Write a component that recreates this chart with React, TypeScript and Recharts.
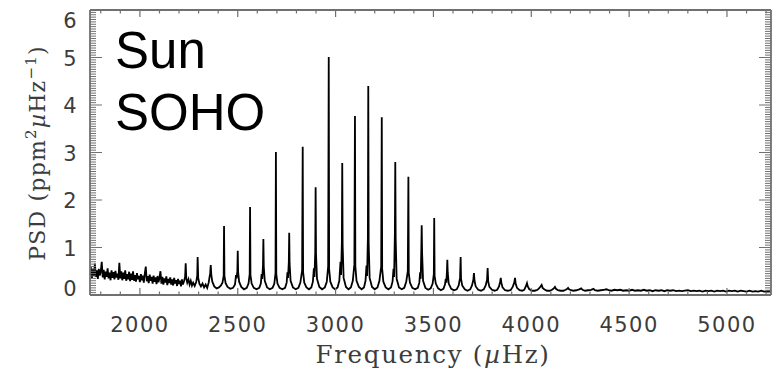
import React from "react";
import { LineChart, Line, XAxis, YAxis } from "recharts";

// SOHO solar power spectrum: [frequency µHz, PSD ppm²/µHz]
const lowBand: [number, number][] = [
  [1745, 0.42], [1750, 0.58], [1755, 0.36], [1760, 0.55], [1765, 0.40], [1770, 0.66],
  [1775, 0.38], [1780, 0.52], [1785, 0.34], [1790, 0.55], [1795, 0.41], [1800, 0.50],
  [1805, 0.70], [1810, 0.37], [1815, 0.53], [1820, 0.33], [1825, 0.49], [1830, 0.38],
  [1835, 0.56], [1840, 0.35], [1845, 0.47], [1850, 0.31], [1855, 0.52], [1860, 0.36],
  [1865, 0.48], [1870, 0.33], [1875, 0.51], [1880, 0.37], [1885, 0.45], [1890, 0.32],
  [1895, 0.68], [1900, 0.35], [1905, 0.50], [1910, 0.31], [1915, 0.47], [1920, 0.34],
  [1925, 0.52], [1930, 0.30], [1935, 0.44], [1940, 0.33], [1945, 0.49], [1950, 0.29],
  [1955, 0.45], [1960, 0.32], [1965, 0.50], [1970, 0.30], [1975, 0.42], [1980, 0.28],
  [1985, 0.46], [1990, 0.33], [1995, 0.40], [2000, 0.27], [2005, 0.44], [2010, 0.31],
  [2015, 0.41], [2020, 0.26], [2025, 0.45], [2030, 0.60], [2035, 0.29], [2040, 0.40],
  [2045, 0.25], [2050, 0.43], [2055, 0.30], [2060, 0.38], [2065, 0.24], [2070, 0.41],
  [2075, 0.28], [2080, 0.37], [2085, 0.23], [2090, 0.40], [2095, 0.27], [2100, 0.36],
  [2105, 0.50], [2110, 0.24], [2115, 0.38], [2120, 0.22], [2125, 0.35], [2130, 0.26],
  [2135, 0.39], [2140, 0.21], [2145, 0.34], [2150, 0.25], [2155, 0.37], [2160, 0.22],
  [2165, 0.33], [2170, 0.20], [2175, 0.36], [2180, 0.24], [2185, 0.31], [2190, 0.19],
  [2195, 0.34], [2200, 0.23], [2205, 0.30], [2210, 0.18], [2215, 0.33], [2220, 0.22],
];

const modeBand: [number, number][] = [
  [2226, 0.30], [2231, 0.38], [2234, 0.67], [2237, 0.35], [2242, 0.26], [2248, 0.33],
  [2254, 0.22], [2260, 0.30], [2266, 0.20], [2272, 0.26], [2280, 0.19], [2288, 0.28],
  [2293, 0.40], [2295, 0.80], [2298, 0.36], [2304, 0.24], [2312, 0.18], [2320, 0.24],
  [2328, 0.16], [2336, 0.22], [2344, 0.15], [2352, 0.27], [2356, 0.38], [2359, 0.45],
  [2362, 0.63], [2365, 0.42], [2370, 0.28], [2380, 0.18], [2392, 0.14], [2404, 0.16],
  [2414, 0.20], [2422, 0.26], [2428, 0.40], [2430, 1.45], [2432, 0.40], [2438, 0.25],
  [2448, 0.17], [2462, 0.13], [2476, 0.15], [2486, 0.22], [2491, 0.42], [2494, 0.35],
  [2498, 0.50], [2500, 0.93], [2502, 0.48], [2507, 0.28], [2518, 0.17], [2532, 0.12],
  [2546, 0.15], [2555, 0.24], [2561, 0.44], [2563, 1.85], [2565, 0.42], [2571, 0.24],
  [2582, 0.15], [2596, 0.12], [2610, 0.15], [2618, 0.24], [2622, 0.44], [2625, 0.34],
  [2629, 0.62], [2631, 1.18], [2633, 0.60], [2638, 0.30], [2650, 0.16], [2664, 0.12],
  [2678, 0.15], [2687, 0.24], [2693, 0.46], [2695, 3.01], [2697, 0.44], [2703, 0.24],
  [2714, 0.15], [2728, 0.12], [2742, 0.15], [2750, 0.26], [2754, 0.48], [2757, 0.36],
  [2761, 0.70], [2763, 1.31], [2765, 0.66], [2770, 0.30], [2782, 0.16], [2796, 0.12],
  [2810, 0.15], [2820, 0.26], [2829, 0.52], [2832, 3.12], [2834, 0.48], [2840, 0.26],
  [2851, 0.16], [2864, 0.12], [2876, 0.16], [2884, 0.28], [2889, 0.56], [2892, 0.38],
  [2896, 0.90], [2898, 2.27], [2900, 0.86], [2905, 0.34], [2917, 0.17], [2931, 0.12],
  [2945, 0.16], [2955, 0.28], [2962, 0.60], [2965, 5.01], [2967, 0.55], [2973, 0.28],
  [2985, 0.16], [2998, 0.12], [3010, 0.16], [3019, 0.30], [3025, 0.70], [3028, 0.42],
  [3032, 1.10], [3034, 2.78], [3036, 1.05], [3041, 0.36], [3053, 0.17], [3066, 0.12],
  [3078, 0.16], [3088, 0.30], [3096, 0.65], [3099, 3.77], [3101, 0.60], [3107, 0.30],
  [3119, 0.17], [3133, 0.12], [3145, 0.16], [3153, 0.30], [3158, 0.62], [3161, 0.40],
  [3165, 1.20], [3167, 4.40], [3169, 1.10], [3174, 0.36], [3186, 0.17], [3200, 0.12],
  [3214, 0.16], [3224, 0.30], [3233, 0.60], [3236, 3.74], [3238, 0.55], [3244, 0.28],
  [3256, 0.16], [3270, 0.12], [3283, 0.16], [3291, 0.28], [3296, 0.55], [3299, 0.38],
  [3303, 1.30], [3305, 2.80], [3307, 1.20], [3312, 0.34], [3324, 0.16], [3338, 0.12],
  [3351, 0.15], [3361, 0.28], [3369, 0.50], [3372, 2.49], [3374, 0.46], [3380, 0.26],
  [3392, 0.15], [3406, 0.12], [3420, 0.15], [3428, 0.26], [3432, 0.48], [3435, 0.34],
  [3438, 0.95], [3440, 1.47], [3442, 0.90], [3447, 0.30], [3459, 0.15], [3473, 0.11],
  [3486, 0.14], [3496, 0.24], [3502, 0.44], [3504, 1.62], [3506, 0.40], [3512, 0.24],
  [3524, 0.14], [3538, 0.10], [3551, 0.13], [3559, 0.22], [3563, 0.34], [3566, 0.26],
  [3569, 0.50], [3571, 0.74], [3573, 0.48], [3578, 0.24], [3591, 0.13], [3605, 0.10],
  [3619, 0.12], [3629, 0.20], [3636, 0.36], [3639, 0.80], [3641, 0.34], [3647, 0.20],
  [3660, 0.12], [3674, 0.09], [3688, 0.12], [3697, 0.20], [3704, 0.32], [3707, 0.46],
  [3710, 0.30], [3716, 0.18], [3729, 0.11], [3743, 0.09], [3757, 0.12], [3767, 0.20],
  [3774, 0.32], [3777, 0.57], [3780, 0.28], [3786, 0.17], [3799, 0.11], [3813, 0.09],
  [3826, 0.11], [3835, 0.18], [3841, 0.28], [3844, 0.36], [3847, 0.26], [3853, 0.16],
  [3866, 0.10], [3880, 0.09], [3894, 0.10], [3905, 0.17], [3913, 0.26], [3917, 0.36],
  [3920, 0.24], [3927, 0.15], [3940, 0.10], [3953, 0.09], [3964, 0.11], [3972, 0.18],
  [3978, 0.25], [3982, 0.18], [3990, 0.12], [4004, 0.09], [4018, 0.09], [4032, 0.11],
  [4044, 0.16], [4053, 0.21], [4058, 0.15], [4066, 0.12], [4080, 0.09], [4094, 0.09],
  [4106, 0.11], [4115, 0.14], [4121, 0.17], [4126, 0.13], [4136, 0.10], [4150, 0.09],
  [4164, 0.09], [4176, 0.11], [4184, 0.13], [4188, 0.15], [4193, 0.12], [4203, 0.10],
];

const tailBand: [number, number][] = [
  [4215, 0.09], [4230, 0.10], [4245, 0.12], [4255, 0.14], [4262, 0.11], [4275, 0.09],
  [4290, 0.10], [4305, 0.11], [4318, 0.13], [4325, 0.10], [4340, 0.09], [4355, 0.10],
  [4370, 0.11], [4385, 0.12], [4395, 0.10], [4410, 0.09], [4425, 0.11], [4440, 0.10],
  [4455, 0.11], [4470, 0.09], [4485, 0.10], [4500, 0.09], [4515, 0.11], [4530, 0.09],
  [4545, 0.10], [4560, 0.09], [4575, 0.11], [4590, 0.09], [4605, 0.10], [4620, 0.08],
  [4635, 0.10], [4650, 0.09], [4665, 0.10], [4680, 0.08], [4695, 0.10], [4710, 0.09],
  [4725, 0.10], [4740, 0.08], [4755, 0.09], [4770, 0.08], [4785, 0.09], [4800, 0.10],
  [4815, 0.08], [4830, 0.09], [4845, 0.08], [4860, 0.09], [4875, 0.07], [4890, 0.09],
  [4905, 0.08], [4920, 0.09], [4935, 0.07], [4950, 0.09], [4965, 0.08], [4980, 0.09],
  [4995, 0.07], [5010, 0.09], [5025, 0.08], [5040, 0.09], [5055, 0.07], [5070, 0.09],
  [5085, 0.08], [5100, 0.07], [5115, 0.09], [5130, 0.07], [5145, 0.08], [5160, 0.07],
  [5175, 0.09], [5190, 0.07], [5205, 0.08], [5225, 0.09],
];

const xMajor = [2000, 2500, 3000, 3500, 4000, 4500, 5000];
const yMajor = [0, 1, 2, 3, 4, 5, 6];

const spectrum = [...lowBand, ...modeBand, ...tailBand].map(([f, p]) => ({ f, p }));

const xTicks: number[] = [];
for (let v = 1800; v <= 5200; v += 100) xTicks.push(v);
const yTicks: number[] = [];
for (let i = 0; i <= 120; i++) yTicks.push(i / 20);

const AXIS = "#707070";
const TEXT = "#3c3c3c";
const tickFont = { fontFamily: "DejaVu Sans", fontSize: 21, letterSpacing: 1.5 };

const isMajorY = (v: number) => Math.abs(v - Math.round(v)) < 1e-6;

const BottomTick = ({ x, y, payload }: any) => {
  const v = payload.value;
  const major = xMajor.includes(v);
  return (
    <g>
      <line x1={x} x2={x} y1={y} y2={y - (major ? 7 : 3.5)} stroke={AXIS} strokeWidth={1.2} />
      {major && (
        <text x={x} y={y + 37} textAnchor="middle" fill={TEXT} {...tickFont}>
          {v}
        </text>
      )}
    </g>
  );
};

const TopTick = ({ x, y, payload }: any) => {
  const major = xMajor.includes(payload.value);
  return <line x1={x} x2={x} y1={y} y2={y + (major ? 7 : 3.5)} stroke={AXIS} strokeWidth={1.2} />;
};

const LeftTick = ({ x, y, payload }: any) => {
  const v = payload.value;
  const major = isMajorY(v);
  const shift = v === 0 ? -7 : v === 6 ? 10 : 0;
  return (
    <g>
      <line x1={x} x2={x + (major ? 12 : 6)} y1={y} y2={y} stroke={AXIS} strokeWidth={1} />
      {major && yMajor.includes(Math.round(v)) && (
        <text x={x - 12} y={y + shift + 8} textAnchor="end" fill={TEXT} {...tickFont}>
          {Math.round(v)}
        </text>
      )}
    </g>
  );
};

const RightTick = ({ x, y, payload }: any) => {
  const major = isMajorY(payload.value);
  return <line x1={x} x2={x - (major ? 12 : 6)} y1={y} y2={y} stroke={AXIS} strokeWidth={1} />;
};

export default function App() {
  return (
    <div style={{ position: "absolute", left: 0, top: 0, width: 783, height: 376, background: "#fff" }}>
      <LineChart width={783} height={376} data={spectrum} margin={{ top: 9, right: 11, bottom: 0, left: 0 }}>
        <XAxis
          xAxisId="b"
          dataKey="f"
          type="number"
          domain={[1745, 5225]}
          allowDataOverflow
          ticks={xTicks}
          interval={0}
          height={81}
          tickSize={0}
          tickMargin={0}
          tickLine={false}
          axisLine={{ stroke: AXIS, strokeWidth: 1.8 }}
          tick={<BottomTick />}
        />
        <XAxis
          xAxisId="t"
          orientation="top"
          dataKey="f"
          type="number"
          domain={[1745, 5225]}
          allowDataOverflow
          ticks={xTicks}
          interval={0}
          height={1}
          tickSize={0}
          tickMargin={0}
          tickLine={false}
          axisLine={{ stroke: AXIS, strokeWidth: 1.8 }}
          tick={<TopTick />}
        />
        <YAxis
          yAxisId="l"
          type="number"
          domain={[0, 6]}
          allowDataOverflow
          ticks={yTicks}
          interval={0}
          width={90}
          tickSize={0}
          tickMargin={0}
          tickLine={false}
          axisLine={{ stroke: AXIS, strokeWidth: 1.8 }}
          tick={<LeftTick />}
        />
        <YAxis
          yAxisId="r"
          orientation="right"
          type="number"
          domain={[0, 6]}
          allowDataOverflow
          ticks={yTicks}
          interval={0}
          width={1}
          tickSize={0}
          tickMargin={0}
          tickLine={false}
          axisLine={{ stroke: AXIS, strokeWidth: 1.8 }}
          tick={<RightTick />}
        />
        <Line
          xAxisId="b"
          yAxisId="l"
          type="linear"
          dataKey="p"
          stroke="#000"
          strokeWidth={1.8}
          dot={false}
          isAnimationActive={false}
        />
      </LineChart>
      <svg width={783} height={376} style={{ position: "absolute", left: 0, top: 0, pointerEvents: "none" }}>
        <text x={115} y={68} fontFamily="Liberation Sans" fontSize={51} fill="#000">Sun</text>
        <text x={115} y={130} fontFamily="Liberation Sans" fontSize={51} fill="#000">SOHO</text>
        <text x={433} y={363} textAnchor="middle" fontFamily="DejaVu Serif" fontSize={24.5} letterSpacing={1.7} fill={TEXT}>
          Frequency (<tspan fontStyle="italic">µ</tspan>Hz)
        </text>
        <text
          transform="rotate(-90)"
          x={-153}
          y={45}
          textAnchor="middle"
          fontFamily="DejaVu Serif"
          fontSize={22}
          letterSpacing={1.2}
          fill={TEXT}
        >
          PSD (ppm<tspan dy={-9} fontSize={15}>2</tspan>
          <tspan dy={9} fontStyle="italic">µ</tspan>Hz<tspan dy={-9} fontSize={15}>−1</tspan>
          <tspan dy={9}>)</tspan>
        </text>
      </svg>
    </div>
  );
}
